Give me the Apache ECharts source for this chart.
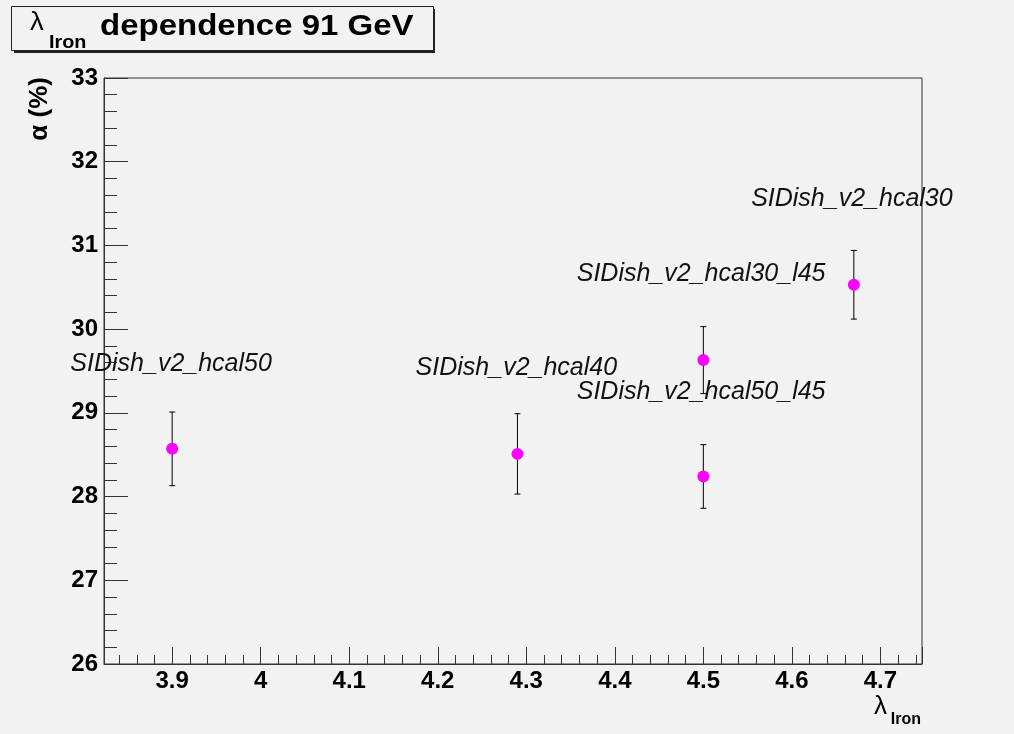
<!DOCTYPE html>
<html>
<head>
<meta charset="utf-8">
<title>lambda Iron dependence 91 GeV</title>
<script src="https://cdn.jsdelivr.net/npm/echarts@6/dist/echarts.min.js"></script>
<style>
  html, body { margin: 0; padding: 0; background: #f2f2f2; }
  #chart { width: 1014px; height: 734px; }
</style>
</head>
<body>
<div id="chart"></div>
<script>
// Interaction lengths of iron per configuration
const lambdaIron = [3.9, 4.29, 4.5, 4.5, 4.67];
// Energy resolution stochastic term alpha (%) and its uncertainty
const alpha = [28.57, 28.51, 29.63, 28.24, 30.53];
const alphaErr = [0.44, 0.48, 0.40, 0.38, 0.41];
// Detector configuration names and where each name is written (data units)
const configNames = ['SIDish_v2_hcal50', 'SIDish_v2_hcal40', 'SIDish_v2_hcal30_l45', 'SIDish_v2_hcal50_l45', 'SIDish_v2_hcal30'];
const nameX = [3.785, 4.175, 4.357, 4.357, 4.554];
const nameY = [29.474, 29.423, 30.552, 29.143, 31.452];
// Y axis range and tick labels
const yRange = [26, 33];
const yTickLabels = ['26', '27', '28', '29', '30', '31', '32', '33'];

// X range: 10% padding on both sides of the data span
const xLo = Math.min(...lambdaIron), xHi = Math.max(...lambdaIron);
const xPad = 0.1 * (xHi - xLo);
const xRange = [xLo - xPad, xHi + xPad];

const FONT = '"Liberation Sans", Arial, Helvetica, sans-serif';
const INK = '#333333';

const chart = echarts.init(document.getElementById('chart'), null, { renderer: 'canvas' });

const points = lambdaIron.map((x, i) => [x, alpha[i]]);
const errs = lambdaIron.map((x, i) => [x, alpha[i], alphaErr[i]]);
const names = configNames.map((n, i) => [nameX[i], nameY[i], n]);

chart.setOption({
  backgroundColor: '#f2f2f2',
  animation: false,
  grid: {
    left: 104, right: 92, top: 78, bottom: 70,
    show: true, borderColor: INK, borderWidth: 1, backgroundColor: 'transparent',
    containLabel: false
  },
  xAxis: {
    type: 'value',
    min: xRange[0], max: xRange[1],
    splitNumber: 9,
    axisLine: { show: true, onZero: false, lineStyle: { color: INK, width: 1 } },
    axisTick: { show: true, inside: true, length: 17, lineStyle: { color: INK, width: 1 } },
    minorTick: { show: true, splitNumber: 5, length: 9, lineStyle: { color: INK, width: 1 } },
    splitLine: { show: false },
    minorSplitLine: { show: false },
    axisLabel: {
      show: true, margin: 5, color: '#000',
      fontFamily: FONT, fontWeight: 'bold', fontSize: 24,
      formatter: v => (Math.abs(v * 10 - Math.round(v * 10)) < 1e-6 ? String(+v.toFixed(1)) : '')
    }
  },
  yAxis: {
    type: 'value',
    min: yRange[0], max: yRange[1], interval: 1,
    axisLine: { show: true, onZero: false, lineStyle: { color: INK, width: 1 } },
    axisTick: { show: true, inside: true, length: 24, lineStyle: { color: INK, width: 1 } },
    minorTick: { show: true, splitNumber: 5, length: 13, lineStyle: { color: INK, width: 1 } },
    splitLine: { show: false },
    minorSplitLine: { show: false },
    axisLabel: {
      show: true, margin: 6, color: '#000',
      fontFamily: FONT, fontWeight: 'bold', fontSize: 24,
      padding: [6, 0, 0, 0],
      formatter: v => yTickLabels[Math.round(v - yRange[0])] || ''
    }
  },
  series: [
    {
      // vertical error bars with short end caps
      type: 'custom',
      z: 2,
      data: errs,
      renderItem: (params, api) => {
        const x = api.value(0), y = api.value(1), e = api.value(2);
        const top = api.coord([x, y + e]);
        const bot = api.coord([x, y - e]);
        const cap = 3;
        const st = { stroke: '#000', lineWidth: 1 };
        return {
          type: 'group',
          children: [
            { type: 'line', shape: { x1: top[0], y1: top[1], x2: bot[0], y2: bot[1] }, style: st },
            { type: 'line', shape: { x1: top[0] - cap, y1: top[1], x2: top[0] + cap, y2: top[1] }, style: st },
            { type: 'line', shape: { x1: bot[0] - cap, y1: bot[1], x2: bot[0] + cap, y2: bot[1] }, style: st }
          ]
        };
      }
    },
    {
      type: 'scatter',
      z: 3,
      data: points,
      symbol: 'circle',
      symbolSize: 12,
      itemStyle: { color: '#ff00ff', opacity: 1 },
      emphasis: { disabled: true }
    },
    {
      // configuration names, anchored at their left baseline
      type: 'custom',
      z: 4,
      clip: false,
      data: names,
      renderItem: (params, api) => {
        const p = api.coord([api.value(0), api.value(1)]);
        return {
          type: 'text',
          x: p[0],
          y: p[1] - 9,
          style: {
            text: configNames[params.dataIndex],
            font: 'italic 25px ' + FONT,
            fill: '#111',
            align: 'left',
            verticalAlign: 'middle'
          }
        };
      }
    }
  ],
  graphic: [
    // title box with drop shadow
    { type: 'rect', z: 10, shape: { x: 14, y: 9, width: 421, height: 44 }, style: { fill: '#222' } },
    { type: 'rect', z: 11, shape: { x: 11.5, y: 6.5, width: 422, height: 44 }, style: { fill: '#f2f2f2', stroke: '#222', lineWidth: 1 } },
    { type: 'text', z: 12, x: 30, y: 23, scaleX: 1.1,
      style: { text: 'λ', font: '25px ' + FONT, fill: '#000', align: 'left', verticalAlign: 'middle' } },
    { type: 'text', z: 12, x: 49, y: 43, scaleX: 1.1,
      style: { text: 'Iron', font: 'bold 18px ' + FONT, fill: '#000', align: 'left', verticalAlign: 'middle' } },
    { type: 'text', z: 12, x: 100, y: 27, scaleX: 1.1,
      style: { text: 'dependence 91 GeV', font: 'bold 30px ' + FONT, fill: '#000', align: 'left', verticalAlign: 'middle' } },
    // y axis title
    { type: 'text', z: 12, x: 40, y: 77, rotation: Math.PI / 2,
      style: { text: 'α (%)', font: 'bold 26px ' + FONT, fill: '#000', align: 'right', verticalAlign: 'middle' } },
    // x axis title
    { type: 'text', z: 12, x: 887, y: 707,
      style: { text: 'λ', font: '26px ' + FONT, fill: '#000', align: 'right', verticalAlign: 'middle' } },
    { type: 'text', z: 12, x: 921, y: 720,
      style: { text: 'Iron', font: 'bold 16px ' + FONT, fill: '#000', align: 'right', verticalAlign: 'middle' } }
  ]
});
</script>
</body>
</html>
